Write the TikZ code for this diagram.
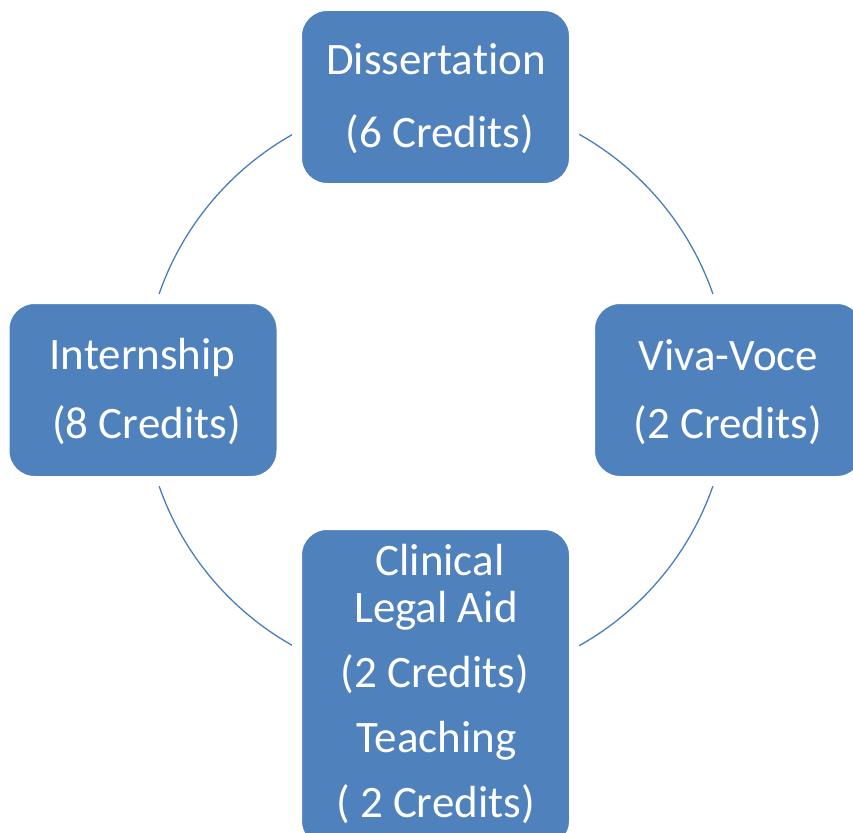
\documentclass[tikz,border=0pt]{standalone}
\usepackage{fontspec}
\setmainfont{Carlito}[Ligatures=NoCommon]
\definecolor{boxblue}{HTML}{4F81BD}
\definecolor{ringblue}{HTML}{4A7EBB}
\begin{document}
\begin{tikzpicture}[x=1pt,y=-1pt,
  box/.style={rectangle, rounded corners=30pt, fill=boxblue, draw=white, line width=10pt, minimum width=277pt, inner sep=0pt},
  lbl/.style={text=white, font=\fontsize{45}{50}\selectfont, anchor=base, inner sep=0pt}]
\useasboundingbox (0,0) rectangle (853,832);
\clip (0,0) rectangle (853,832);
\node[circle, draw=ringblue, line width=1.3pt, minimum size=586pt, inner sep=0pt] (ring) at (436,390) {};
% boxes
\node[box, minimum height=182pt] (dis) at (435.5,97) {};
\node[box, minimum height=182pt] (viva) at (728.5,390) {};
\node[box, minimum height=182pt] (intern) at (143,390) {};
\node[box, minimum height=326pt] (clin) at (435.5,688) {};
% texts
\node[lbl] (t1a) at (436,75) {Dissertation};
\node[lbl] (t1b) at (440,147) {(6 Credits)};
\node[lbl] (t2a) at (728.5,370) {Viva-Voce};
\node[lbl] (t2b) at (728,438) {(2 Credits)};
\node[lbl] (t3a) at (142.5,369) {Internship};
\node[lbl] (t3b) at (146.5,438) {(8 Credits)};
\node[lbl] (t4a) at (440,575) {Clinical};
\node[lbl] (t4b) at (436,622) {Legal Aid};
\node[lbl] (t4c) at (435,687) {(2 Credits)};
\node[lbl] (t4d) at (436.5,752) {Teaching};
\node[lbl] (t4e) at (435.5,817) {( 2 Credits)};
\end{tikzpicture}
\end{document}
